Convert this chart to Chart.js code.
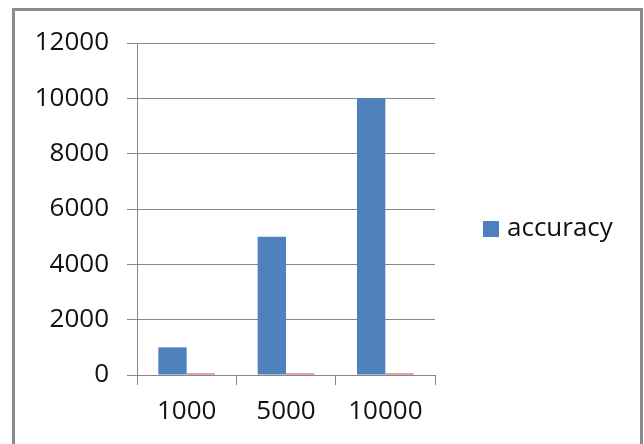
<!DOCTYPE html>
<html>
<head>
<meta charset="utf-8">
<script src="https://cdn.jsdelivr.net/npm/chart.js@4.4.0/dist/chart.umd.min.js"></script>
<style>
  html, body { margin: 0; padding: 0; background: #ffffff; }
  #wrap { position: relative; width: 644px; height: 444px; overflow: hidden; }
  #c { position: absolute; left: 0; top: 0; }
  #frame {
    position: absolute; left: 12px; top: 8px; width: 625px; height: 460px;
    border: 3px solid #8c8c8c; pointer-events: none;
  }
</style>
</head>
<body>
<div id="wrap">
  <canvas id="c" width="644" height="444"></canvas>
  <div id="frame"></div>
</div>
<script>
// Category labels along the x axis
const categories = ['1000', '5000', '10000'];
// First series (shown in the legend)
const accuracyValues = [1000, 5000, 10000];
// Second series: very small values, barely visible above the axis
const secondValues = [55, 55, 55];
// Value axis ticks
const yTicks = [0, 2000, 4000, 6000, 8000, 10000, 12000];

const FONT = "'Open Sans', 'Liberation Sans', sans-serif";
const GRID = '#868686';
const TEXT = '#111111';

// Legend drawn to the right of the plot, one entry per listed series
const sideLegend = {
  id: 'sideLegend',
  afterDraw(chart) {
    const ctx = chart.ctx;
    ctx.save();
    let y = 229;
    chart.data.datasets.forEach(ds => {
      if (ds.hideInLegend) return;
      ctx.fillStyle = ds.backgroundColor;
      ctx.fillRect(483, y - 8, 16, 16);
      ctx.fillStyle = TEXT;
      ctx.font = '26px ' + FONT;
      ctx.textAlign = 'left';
      ctx.textBaseline = 'middle';
      ctx.fillText(ds.label, 507, y);
      y += 34;
    });
    ctx.restore();
  }
};

new Chart(document.getElementById('c'), {
  type: 'bar',
  data: {
    labels: categories,
    datasets: [
      {
        label: 'accuracy',
        data: accuracyValues,
        backgroundColor: '#4f81bd',
        categoryPercentage: 0.571,
        barPercentage: 1.0
      },
      {
        label: 'value',
        data: secondValues,
        backgroundColor: '#c0504d',
        categoryPercentage: 0.571,
        barPercentage: 1.0,
        hideInLegend: true
      }
    ]
  },
  options: {
    responsive: false,
    animation: false,
    devicePixelRatio: 1,
    layout: { padding: { left: 0, top: 43, right: 209, bottom: 0 } },
    plugins: {
      legend: { display: false },
      tooltip: { enabled: false }
    },
    scales: {
      x: {
        grid: { display: true, drawOnChartArea: false, drawTicks: true, tickLength: 10, color: GRID, lineWidth: 1 },
        border: { display: true, color: GRID, width: 1 },
        ticks: { color: TEXT, font: { family: FONT, size: 26 }, padding: 11, maxRotation: 0 },
        afterFit(scale) { scale.height = 69; }
      },
      y: {
        min: 0,
        max: 12000,
        afterBuildTicks(scale) { scale.ticks = yTicks.map(v => ({ value: v })); },
        grid: { color: GRID, lineWidth: 1, tickLength: 10, drawTicks: true },
        border: { display: true, color: GRID, width: 1 },
        ticks: { color: TEXT, font: { family: FONT, size: 26 }, padding: 18, callback: v => String(v) },
        afterFit(scale) { scale.width = 137; }
      }
    }
  },
  plugins: [sideLegend]
});
</script>
</body>
</html>
